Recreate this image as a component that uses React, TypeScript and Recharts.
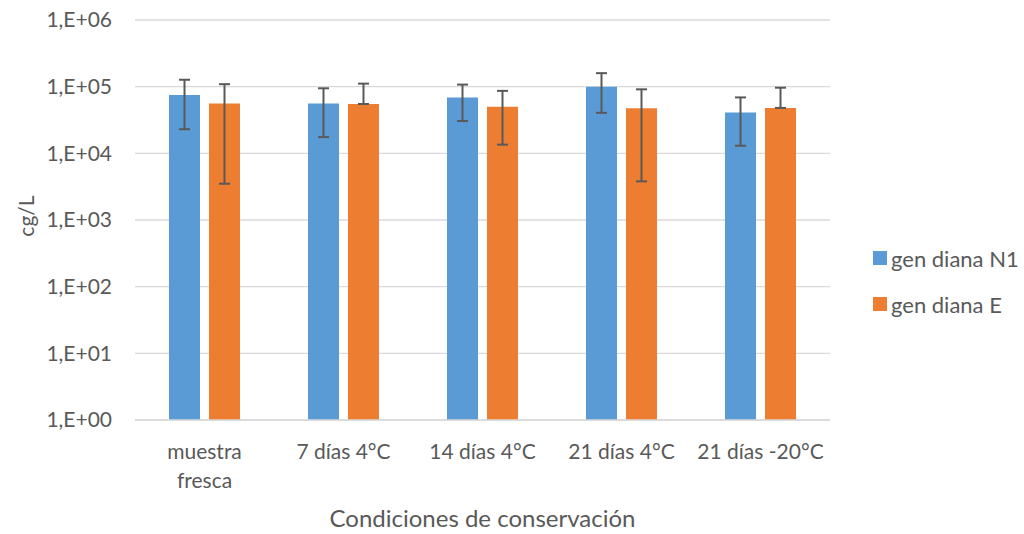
import React from 'react';
import { BarChart, Bar, XAxis, YAxis, CartesianGrid, ErrorBar, Legend, Label } from 'recharts';

const categories = ['muestra fresca', '7 días 4°C', '14 días 4°C', '21 días 4°C', '21 días -20°C'];

const n1Values = [75000, 56000, 69000, 100000, 41000];
const n1ErrLow = [52000, 38500, 38500, 59500, 28000];
const n1ErrHigh = [52000, 38500, 38500, 59500, 28000];

const eValues = [56000, 55000, 50000, 47500, 48000];
// lower bars that would go below zero are clipped at the bar top, as in the original
const eErrLow = [52500, 0, 36500, 43700, 0];
const eErrHigh = [53000, 56000, 36500, 43700, 48500];

const yTicks = [1, 10, 100, 1000, 10000, 100000, 1000000];

const series = [
    { key: 'n1', name: 'gen diana N1', color: '#5B9BD5' },
    { key: 'e', name: 'gen diana E', color: '#ED7D31' },
];

// category labels that Excel wraps onto two lines
const tickLines: Record<string, string[]> = {
    'muestra fresca': ['muestra', 'fresca'],
};

const FONT = 'Lato, "Open Sans", sans-serif';
const TEXT = '#595959';

const data = categories.map((name, i) => ({
    name,
    n1: n1Values[i],
    n1Err: [n1ErrLow[i], n1ErrHigh[i]],
    e: eValues[i],
    eErr: [eErrLow[i], eErrHigh[i]],
}));

const formatSci = (v: number) => `1,E+${String(Math.round(Math.log10(v))).padStart(2, '0')}`;

const XTick = ({ x, y, payload }: any) => {
    const lines = tickLines[payload.value] ?? [payload.value];
    return (
        <text x={x} y={y} textAnchor="middle" fill={TEXT} fontSize={21} fontFamily={FONT}>
            {lines.map((l, i) => (
                <tspan key={i} x={x} dy={i === 0 ? 39 : 29}>
                    {l}
                </tspan>
            ))}
        </text>
    );
};

const renderLegend = () => (
    <div style={{ fontFamily: FONT, fontSize: 22, color: TEXT }}>
        {series.map((s) => (
            <div key={s.key} style={{ display: 'flex', alignItems: 'center', height: 46 }}>
                <span style={{ width: 14, height: 14, background: s.color, marginRight: 4, display: 'inline-block' }} />
                {s.name}
            </div>
        ))}
    </div>
);

export default function App() {
    return (
        <div style={{ position: 'absolute', left: 0, top: 0, width: 1024, height: 534, background: '#fff' }}>
            <BarChart
                width={1024}
                height={534}
                data={data}
                margin={{ top: 20, right: 194, left: 0, bottom: 0 }}
                barSize={31}
                barGap={9}
            >
                <CartesianGrid horizontal vertical={false} stroke="#d9d9d9" strokeWidth={1.3} />
                <XAxis
                    dataKey="name"
                    height={114}
                    tickLine={false}
                    tickSize={0}
                    tickMargin={0}
                    axisLine={{ stroke: '#d9d9d9', strokeWidth: 1.3 }}
                    tick={<XTick />}
                    interval={0}
                >
                    <Label
                        content={({ viewBox }: any) => (
                            <text
                                x={viewBox.x + viewBox.width / 2}
                                y={527}
                                textAnchor="middle"
                                fill={TEXT}
                                fontSize={24}
                                fontFamily={FONT}
                            >
                                Condiciones de conservación
                            </text>
                        )}
                    />
                </XAxis>
                <YAxis
                    scale="log"
                    domain={[1, 1000000]}
                    ticks={yTicks}
                    allowDataOverflow
                    width={135}
                    axisLine={false}
                    tickLine={false}
                    tickSize={0}
                    tickMargin={23}
                    tickFormatter={formatSci}
                    tick={{ fill: TEXT, fontSize: 21, fontFamily: FONT }}
                >
                    <Label
                        content={({ viewBox }: any) => {
                            const cx = 25;
                            const cy = viewBox.y + viewBox.height / 2 - 4;
                            return (
                                <text
                                    x={cx}
                                    y={cy}
                                    transform={`rotate(-90, ${cx}, ${cy})`}
                                    textAnchor="middle"
                                    dominantBaseline="central"
                                    fill={TEXT}
                                    fontSize={21}
                                    fontFamily={FONT}
                                >
                                    cg/L
                                </text>
                            );
                        }}
                    />
                </YAxis>
                <Legend
                    layout="horizontal"
                    align="center"
                    verticalAlign="middle"
                    content={renderLegend}
                    wrapperStyle={{ left: 873, top: 235, width: 160 }}
                />
                {series.map((s) => (
                    <Bar key={s.key} dataKey={s.key} name={s.name} fill={s.color} isAnimationActive={false}>
                        <ErrorBar dataKey={`${s.key}Err`} stroke={TEXT} strokeWidth={2} width={5.5} />
                    </Bar>
                ))}
            </BarChart>
        </div>
    );
}
